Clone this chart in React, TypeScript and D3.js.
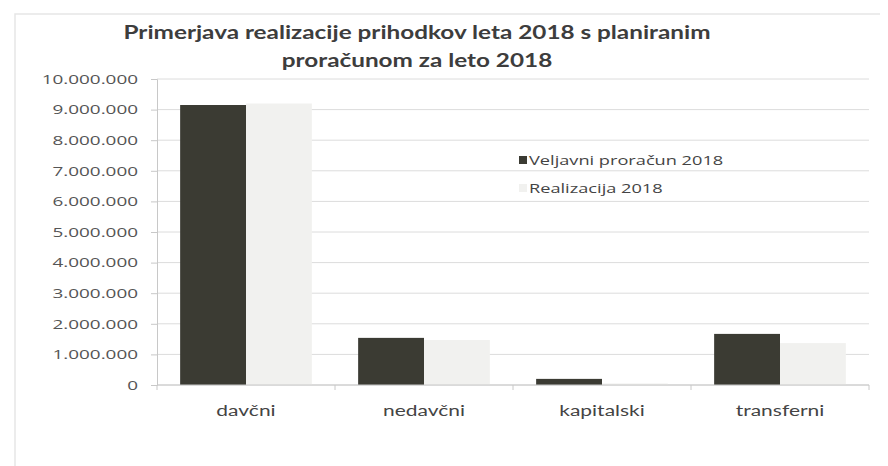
import React, { useRef, useEffect } from 'react';
import * as d3 from 'd3';

const CATEGORIES = ["davčni", "nedavčni", "kapitalski", "transferni"];
const SERIES = ["Veljavni proračun 2018", "Realizacija 2018"];
const BUDGET = [9150000, 1540000, 200000, 1670000];
const REALIZED = [9200000, 1470000, 50000, 1370000];
const Y_TICKS = [0, 1000000, 2000000, 3000000, 4000000, 5000000, 6000000, 7000000, 8000000, 9000000, 10000000];
const TITLE_LINES = ["Primerjava realizacije prihodkov leta 2018 s planiranim", "proračunom  za leto 2018"];

const COLORS = ["#3b3b33", "#f1f1ef"];

const W = 888;
const H = 466;
// the scanned chart is stretched sideways, so text is widened to match
const SX = 1.4;

const App: React.FC = () => {
    const svgRef = useRef<SVGSVGElement>(null);

    useEffect(() => {
        if (!svgRef.current) return;
        const svg = d3.select(svgRef.current);
        svg.selectAll("*").remove();

        const margin = { top: 79, right: 19, bottom: 81, left: 157 };
        const width = W - margin.left - margin.right;
        const height = H - margin.top - margin.bottom;

        svg.append("rect").attr("width", W).attr("height", H).attr("fill", "#fff");

        // outer chart frame (only top and left edges are visible)
        svg.append("path")
            .attr("d", `M15,${H} L15,14 L880,14`)
            .attr("fill", "none")
            .attr("stroke", "#e6e6e6")
            .attr("stroke-width", 1.5);

        const x0 = d3.scaleBand().domain(CATEGORIES).range([0, width]).paddingInner(0.26).paddingOuter(0.13);
        const x1 = d3.scaleBand().domain(SERIES).range([0, x0.bandwidth()]);
        const y = d3.scaleLinear().domain([0, 10000000]).range([height, 0]);

        const fmt = (v: number) => d3.format(",")(v).replace(/,/g, ".");

        const g = svg.append("g").attr("transform", `translate(${margin.left},${margin.top})`);

        g.append("g")
            .selectAll("line")
            .data(Y_TICKS)
            .join("line")
            .attr("x1", 0)
            .attr("x2", width)
            .attr("y1", d => y(d))
            .attr("y2", d => y(d))
            .attr("stroke", "#dcdcdc")
            .attr("stroke-width", 1);

        const groups = g.selectAll("g.cat")
            .data(CATEGORIES)
            .join("g")
            .attr("class", "cat")
            .attr("transform", d => `translate(${x0(d)},0)`);

        groups.selectAll("rect")
            .data((d, i) => [BUDGET[i], REALIZED[i]].map((v, j) => ({ key: SERIES[j], v, j })))
            .join("rect")
            .attr("x", d => x1(d.key)!)
            .attr("width", x1.bandwidth())
            .attr("y", d => y(d.v))
            .attr("height", d => height - y(d.v))
            .attr("fill", d => COLORS[d.j]);

        const yAxis = g.append("g")
            .call(d3.axisLeft(y).tickValues(Y_TICKS).tickSize(6).tickFormat(d => fmt(d as number)));
        yAxis.select(".domain").attr("stroke", "#c8c8c8");
        yAxis.selectAll(".tick line").attr("stroke", "#c8c8c8");
        yAxis.selectAll(".tick text")
            .attr("x", 0)
            .attr("transform", `translate(-19,0) scale(${SX},1)`)
            .attr("fill", "#555")
            .style("font-family", "'Open Sans', sans-serif")
            .style("font-size", "13.5px");

        const step = x0.step();
        const xAxis = g.append("g").attr("transform", `translate(0,${height})`);
        xAxis.append("line").attr("x1", 0).attr("x2", width).attr("stroke", "#c8c8c8");
        xAxis.selectAll("line.tk")
            .data(d3.range(CATEGORIES.length + 1))
            .join("line")
            .attr("class", "tk")
            .attr("x1", i => i * step)
            .attr("x2", i => i * step)
            .attr("y1", 0)
            .attr("y2", 5)
            .attr("stroke", "#c8c8c8");
        xAxis.selectAll("text")
            .data(CATEGORIES)
            .join("text")
            .attr("transform", d => `translate(${x0(d)! + x0.bandwidth() / 2},31) scale(${SX},1)`)
            .attr("text-anchor", "middle")
            .attr("fill", "#444")
            .style("font-family", "Lato, sans-serif")
            .style("font-size", "15px")
            .text(d => d);

        svg.selectAll("text.title")
            .data(TITLE_LINES)
            .join("text")
            .attr("class", "title")
            .attr("transform", (d, i) => `translate(417,${39 + i * 28}) scale(1.35,1)`)
            .attr("text-anchor", "middle")
            .attr("fill", "#3d3d3d")
            .style("font-family", "Lato, sans-serif")
            .style("font-weight", "bold")
            .style("font-size", "18px")
            .text(d => d);

        const legend = svg.append("g").attr("transform", "translate(519,161)");
        SERIES.forEach((s, i) => {
            const row = legend.append("g").attr("transform", `translate(0,${i * 28})`);
            row.append("rect")
                .attr("x", 0)
                .attr("y", -5)
                .attr("width", 8)
                .attr("height", 8)
                .attr("fill", COLORS[i]);
            row.append("text")
                .attr("transform", `translate(10,4) scale(${SX},1)`)
                .attr("fill", "#444")
                .style("font-family", "'Open Sans', sans-serif")
                .style("font-size", "13px")
                .text(s);
        });
    }, []);

    return (
        <div style={{ position: 'absolute', left: 0, top: 0, width: W, height: H }}>
            <svg ref={svgRef} width={W} height={H} />
        </div>
    );
};

export default App;
